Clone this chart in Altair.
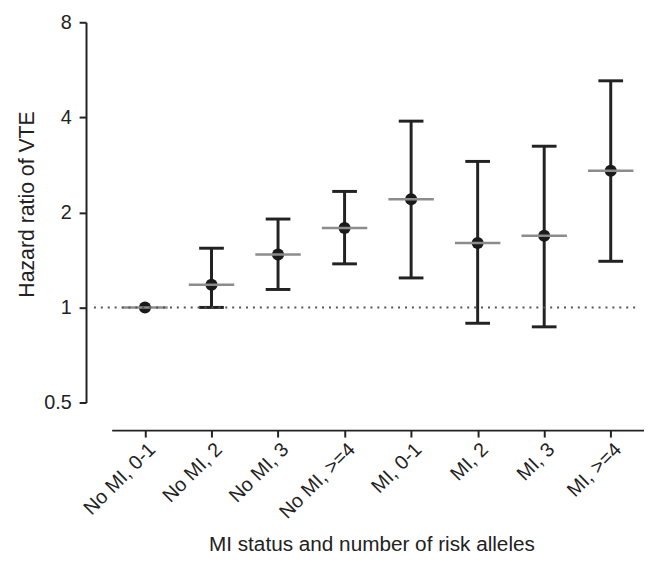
import altair as alt
import pandas as pd

categories = ["No MI, 0-1", "No MI, 2", "No MI, 3", "No MI, >=4",
              "MI, 0-1", "MI, 2", "MI, 3", "MI, >=4"]
hazard_ratio = [1.0, 1.18, 1.47, 1.785, 2.20, 1.60, 1.686, 2.71]
ci_lower = [None, 1.0, 1.14, 1.374, 1.24, 0.891, 0.868, 1.40]
ci_upper = [None, 1.54, 1.905, 2.33, 3.89, 2.90, 3.24, 5.22]
y_ticks = [0.5, 1, 2, 4, 8]

df = pd.DataFrame({"group": categories, "hr": hazard_ratio,
                   "lo": ci_lower, "hi": ci_upper})

FONT = "Liberation Sans"
INK = "#222222"
Y_TITLE = "Hazard ratio of VTE"

x_enc = alt.X(
    "group:N", sort=categories,
    scale=alt.Scale(type="point", padding=0.5),
    axis=alt.Axis(
        title="MI status and number of risk alleles",
        labelAngle=-45, labelAlign="right", labelBaseline="top",
        labelPadding=2, offset=28,
        titleFontSize=21, titleX=263, titleY=122, titleBaseline="alphabetic",
    ),
)


def y_enc(field):
    return alt.Y(
        field, title=Y_TITLE,
        scale=alt.Scale(type="log", base=2, domain=[0.5, 8], nice=False),
        axis=alt.Axis(values=y_ticks, format="~g", offset=26, grid=False,
                      labelPadding=8, titlePadding=5, titleFontSize=21.5,
                      titleY=184),
    )


base = alt.Chart(df)

ref = alt.Chart(pd.DataFrame({"r": [0]})).mark_rule(
    color="#555555", strokeWidth=2, strokeDash=[2, 5]
).encode(y=alt.datum(1), x=alt.value(-18), x2=alt.value(535))

bars = base.mark_rule(color=INK, strokeWidth=3).encode(
    x=x_enc, y=y_enc("lo:Q"), y2="hi:Q")
cap_lo = base.mark_tick(color=INK, size=25, thickness=3, opacity=1).encode(
    x=x_enc, y=y_enc("lo:Q"))
cap_hi = base.mark_tick(color=INK, size=25, thickness=3, opacity=1).encode(
    x=x_enc, y=y_enc("hi:Q"))
pts = base.mark_circle(color="#1a1a1a", size=150, opacity=1).encode(
    x=x_enc, y=y_enc("hr:Q"))
hline = base.mark_tick(color="#8c8c8c", size=46, thickness=2.5, opacity=1).encode(
    x=x_enc, y=y_enc("hr:Q"))

chart = alt.layer(bars, cap_lo, cap_hi, pts, hline, ref).properties(
    width=539, height=385,
    autosize=alt.AutoSizeParams(type="none"),
    padding={"left": 105, "top": 11, "right": 0, "bottom": 152},
    background="white",
).configure_view(stroke=None).configure_axis(
    domainColor=INK, domainWidth=2, tickColor=INK, tickWidth=2, tickSize=7,
    labelFont=FONT, labelFontSize=20, labelColor=INK,
    titleFont=FONT, titleFontWeight="normal", titleColor=INK,
)

chart.save("out.html", embed_options={"renderer": "svg", "actions": False})
